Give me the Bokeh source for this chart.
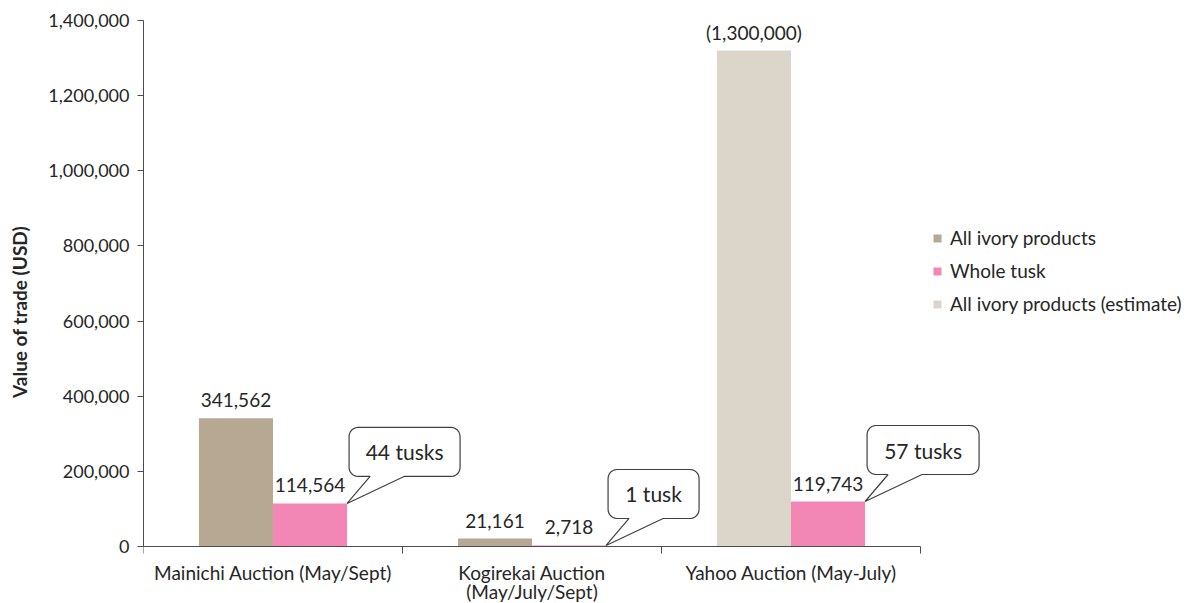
from bokeh.plotting import figure
from bokeh.models import (ColumnDataSource, Range1d, FixedTicker, NumeralTickFormatter,
                          Legend, LegendItem)
from bokeh.core.properties import value
from bokeh.embed import file_html
from bokeh.resources import INLINE
import math

# ---------------- data ----------------
categories = ["Mainichi Auction (May/Sept)", "Kogirekai Auction\n(May/July/Sept)", "Yahoo Auction (May-July)"]
all_ivory = [341562, 21161]            # Mainichi, Kogirekai
all_ivory_labels = ["341,562", "21,161"]
whole_tusk = [114564, 2718, 119743]    # all three auctions
whole_tusk_labels = ["114,564", "2,718", "119,743"]
estimate = [1320000]                   # Yahoo (estimate)
estimate_labels = ["(1,300,000)"]
tusk_counts = ["44 tusks", "1 tusk", "57 tusks"]
y_ticks = [0, 200000, 400000, 600000, 800000, 1000000, 1200000, 1400000]

series_names = ["All ivory products", "Whole tusk", "All ivory products (estimate)"]
colors = ["#B6A892", "#F287B5", "#DCD5C9"]

FONT = "Lato"
TXT = "#262626"
AXC = "#4d4d4d"

# ---------------- layout (pixels) ----------------
W, H = 1189, 603
ML = 143           # frame left (y axis)
MT = 20            # frame top (y = YMAX)
ZERO = 546         # pixel row of y = 0
XAX_END = 920      # pixel column of the end of the category axis
YMAX = 1400000
NCAT = len(categories)

ux = NCAT / (XAX_END - ML)          # data units per px (x)
uy = YMAX / (ZERO - MT)             # data units per px (y)
x_end = NCAT + (W - XAX_END) * ux
y_start = -(H - ZERO) * uy

p = figure(width=W, height=H, output_backend="svg", toolbar_location=None,
           x_range=Range1d(0, x_end), y_range=Range1d(y_start, YMAX),
           x_axis_location="above",
           min_border_left=ML, min_border_right=0, min_border_top=MT, min_border_bottom=0)
p.outline_line_color = None
p.xgrid.visible = False
p.ygrid.visible = False
p.background_fill_color = "white"
p.border_fill_color = "white"

centers = [i + 0.5 for i in range(NCAT)]
bw = 0.286
off = bw / 2

src_a = ColumnDataSource(dict(x=[c - off for c in centers[:2]], top=all_ivory, lab=all_ivory_labels))
src_w = ColumnDataSource(dict(x=[c + off for c in centers], top=whole_tusk, lab=whole_tusk_labels))
src_e = ColumnDataSource(dict(x=[centers[2] - off], top=estimate, lab=estimate_labels))

ra = p.vbar(x="x", top="top", width=bw, source=src_a, fill_color=colors[0], line_color=None)
rw = p.vbar(x="x", top="top", width=bw, source=src_w, fill_color=colors[1], line_color=None)
re_ = p.vbar(x="x", top="top", width=bw, source=src_e, fill_color=colors[2], line_color=None)

for s in (src_a, src_w, src_e):
    p.text(x="x", y="top", text="lab", source=s, text_align="center", text_baseline="middle",
           y_offset=-18, text_font=value(FONT), text_font_size="19px", text_color=TXT)

# ---------------- callouts ----------------
box_w = [111, 91, 112]
box_h = 49
gap = 27
dxl = 2
base0, base1 = 21, 55
r = 9


def arc(cx, cy, a0, a1, n=6):
    return [(cx + r * math.cos(math.radians(a0 + (a1 - a0) * i / n)),
             cy + r * math.sin(math.radians(a0 + (a1 - a0) * i / n))) for i in range(n + 1)]


cx_list, cy_list = [], []
for i, (tx, ty) in enumerate(zip([c + 2 * off for c in centers], whole_tusk)):
    L = dxl
    R = dxl + box_w[i]
    B = gap
    T = gap + box_h
    pts = []
    pts += arc(R - r, T - r, 90, 0)
    pts += arc(R - r, B + r, 0, -90)
    pts += [(L + base1, B), (0, 0), (L + base0, B)]
    pts += arc(L + r, B + r, -90, -180)
    pts += arc(L + r, T - r, 180, 90)
    xs = [tx + px * ux for px, py in pts]
    ys = [ty + py * uy for px, py in pts]
    p.patch(xs, ys, fill_color="white", line_color="#404040", line_width=1.2)
    cx_list.append(tx + (L + R) / 2 * ux)
    cy_list.append(ty + (B + T) / 2 * uy)

p.text(x=cx_list, y=cy_list, text=tusk_counts, text_align="center", text_baseline="middle",
       text_font=value(FONT), text_font_size="21px", text_color=TXT)

# ---------------- category axis (at y = 0) ----------------
ax = p.xaxis[0]
ax.fixed_location = 0
ax.bounds = (0, NCAT)
ax.ticker = FixedTicker(ticks=[], minor_ticks=list(range(NCAT + 1)))
ax.minor_tick_in = 7
ax.minor_tick_out = 0
ax.minor_tick_line_color = AXC
ax.major_tick_line_color = None
ax.axis_line_color = AXC

cat_x, cat_y, cat_t = [], [], []
for c, lab in zip(centers, categories):
    for j, line in enumerate(lab.split("\n")):
        cat_x.append(c)
        cat_y.append(-(26 + 19 * j) * uy)
        cat_t.append(line)
p.text(x=cat_x, y=cat_y, text=cat_t, text_align="center", text_baseline="middle",
       text_font=value(FONT), text_font_size="19px", text_color=TXT)

# ---------------- value axis ----------------
ay = p.yaxis[0]
ay.bounds = (0, YMAX)
ay.ticker = FixedTicker(ticks=y_ticks, minor_ticks=[])
ay.formatter = NumeralTickFormatter(format="0,0")
ay.major_tick_out = 6
ay.major_tick_in = 0
ay.major_tick_line_color = AXC
ay.axis_line_color = AXC
ay.major_label_standoff = 8
ay.major_label_text_font = FONT
ay.major_label_text_font_size = "18px"
ay.major_label_text_color = TXT
ay.axis_label = "Value of trade (USD)"
ay.axis_label_text_font = FONT
ay.axis_label_text_font_size = "19px"
ay.axis_label_text_font_style = "bold"
ay.axis_label_text_color = TXT
ay.axis_label_standoff = 14

legend = Legend(items=[LegendItem(label=series_names[0], renderers=[ra]),
                       LegendItem(label=series_names[1], renderers=[rw]),
                       LegendItem(label=series_names[2], renderers=[re_])],
                location=(789, H - 315), border_line_color=None, background_fill_alpha=0,
                glyph_width=10, glyph_height=10, label_text_font=FONT,
                label_text_font_size="19px", label_text_color=TXT, spacing=10,
                padding=0, margin=0, label_standoff=8)
p.add_layout(legend, "center")

open("out.html", "w").write(file_html(p, INLINE))
